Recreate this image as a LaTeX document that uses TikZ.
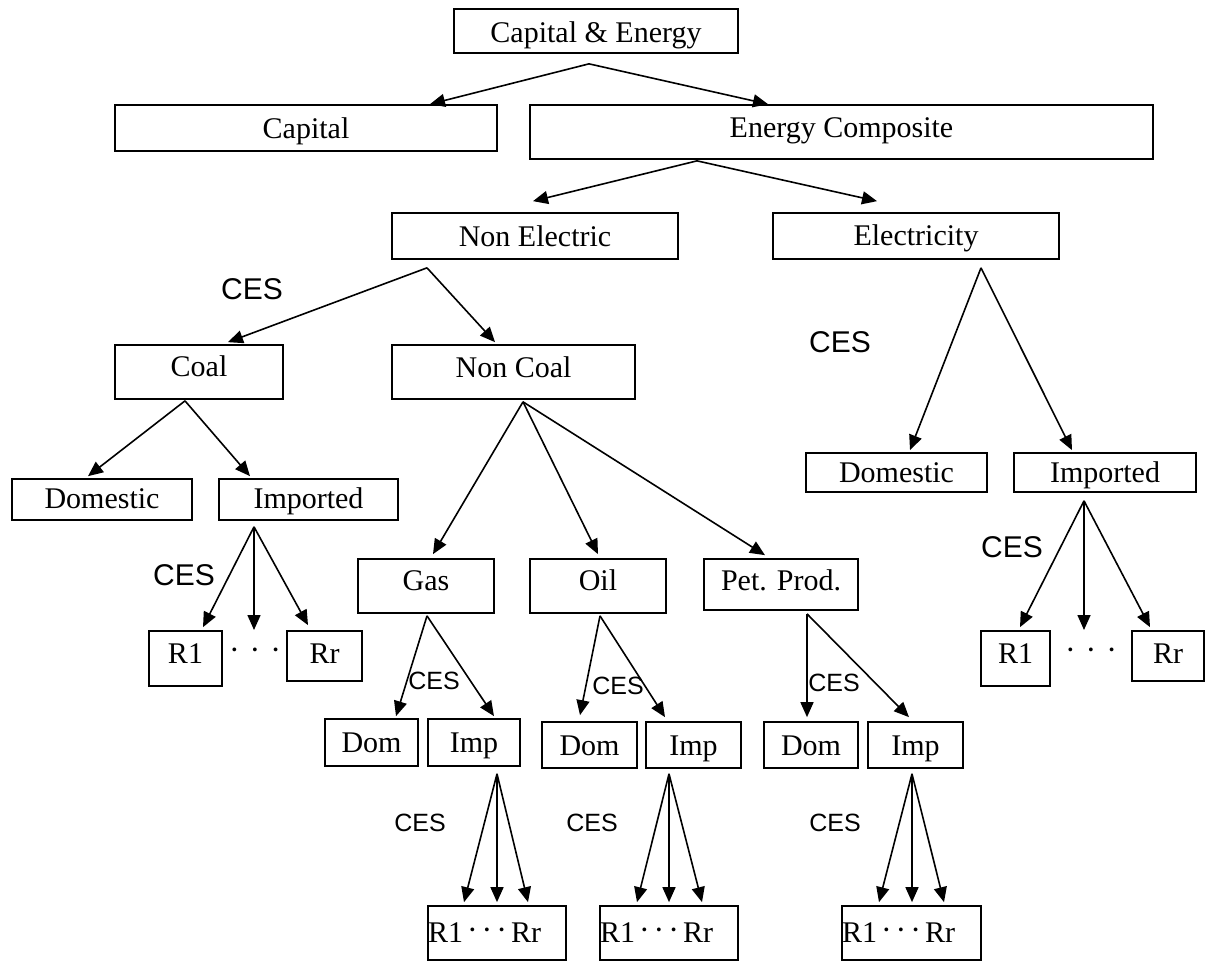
\documentclass[tikz,border=0pt]{standalone}
\usepackage{fontspec}
\setmainfont{Liberation Serif}
\newfontfamily\cesfont{Liberation Sans}
\usetikzlibrary{arrows.meta}
\newcommand\bfnt{\fontsize{30}{34}\selectfont}
\newcommand\mdot{\raisebox{2pt}{\fontsize{32}{34}\selectfont·}}
\newcommand\mybox[7]{%
  \pgfmathsetmacro\bxw{#4-#2}%
  \pgfmathsetmacro\bxd{#5-#3-#6}%
  \node[box, minimum width=\bxw pt, text height=#6pt, text depth=\bxd pt] (#1) at ({(#2+#4)/2},{(#3+#5)/2}) {#7};}
\newcommand\myrbox[6]{%
  \pgfmathsetmacro\bxw{#4-#2}%
  \pgfmathsetmacro\bxd{#5-#3-#6}%
  \node[box, text width=\bxw pt, align=left, text height=#6pt, text depth=\bxd pt] (#1) at ({(#2+#4)/2},{(#3+#5)/2}) {R1\makebox[48pt][s]{\hspace{4pt}\mdot\hfill\mdot\hfill\mdot\hspace{4pt}}Rr};}
\newcommand\myarr[6]{\draw[arr] ([xshift=#2pt,yshift=#3pt]#1.south) -- ([xshift=#5pt,yshift=#6pt]#4.north);}
\begin{document}
\begin{tikzpicture}[x=1pt,y=-1pt,
  box/.style={draw, line width=1.7pt, inner sep=0pt, font=\bfnt},
  arr/.style={line width=1.6pt, -{Triangle[length=15pt,width=13pt]}},
  cesbig/.style={inner sep=0pt, font=\cesfont\fontsize{30}{34}\selectfont},
  cessmall/.style={inner sep=0pt, font=\cesfont\fontsize{25}{29}\selectfont},
  dots/.style={inner sep=0pt, anchor=base, font=\bfnt}]
\fill[white] (0,0) rectangle (1205,961);
\useasboundingbox (0,0) rectangle (1205,961);
% boxes
\mybox{ce}{454}{9}{738}{53}{33}{Capital \& Energy}
\mybox{cap}{115}{105}{497}{151}{33}{Capital}
\mybox{ec}{530}{105}{1153}{159}{32}{Energy Composite}
\mybox{ne}{392}{213}{678}{259}{33}{Non Electric}
\mybox{el}{773}{213}{1059}{259}{32}{Electricity}
\mybox{coal}{115}{345}{283}{399}{31}{Coal}
\mybox{nc}{392}{345}{635}{399}{32}{Non Coal}
\mybox{cdom}{12}{479}{192}{520}{29}{Domestic}
\mybox{cimp}{219}{479}{398}{520}{29}{Imported}
\mybox{cr1}{149}{631}{222}{686}{32}{R1}
\mybox{crr}{287}{631}{362}{681}{32}{Rr}
\mybox{edom}{806}{453}{987}{492}{29}{Domestic}
\mybox{eimp}{1014}{453}{1196}{492}{29}{Imported}
\mybox{er1}{981}{631}{1050}{686}{32}{R1}
\mybox{err}{1132}{631}{1204}{681}{32}{Rr}
\mybox{gas}{358}{559}{494}{613}{31}{Gas}
\mybox{oil}{530}{559}{666}{613}{31}{Oil}
\mybox{pet}{704}{559}{858}{610}{31}{Pet. Prod.}
\mybox{gdom}{325}{719}{418}{766}{33}{Dom}
\mybox{gimp}{428}{719}{520}{766}{33}{Imp}
\mybox{odom}{542}{722}{637}{768}{33}{Dom}
\mybox{oimp}{646}{722}{741}{768}{33}{Imp}
\mybox{pdom}{764}{722}{858}{768}{33}{Dom}
\mybox{pimp}{868}{722}{963}{768}{33}{Imp}
\myrbox{gR}{428}{906}{566}{960}{36}
\myrbox{oR}{600}{906}{738}{960}{36}
\myrbox{pR}{842}{906}{981}{960}{36}
% dots between region boxes
\node[dots] (cdots) at (255,662) {\mdot\hspace{10pt}\mdot\hspace{10pt}\mdot};
\node[dots] (edots) at (1091,662) {\mdot\hspace{10pt}\mdot\hspace{10pt}\mdot};
\coordinate (cmid) at (254,630);
\coordinate (emid) at (1084,630);
% CES labels
\node[cesbig] (ces1) at (252,289) {CES};
\node[cesbig] (ces2) at (840,342) {CES};
\node[cesbig] (ces3) at (184,575) {CES};
\node[cesbig] (ces4) at (1012,547) {CES};
\node[cessmall] (ces5) at (434,681) {CES};
\node[cessmall] (ces6) at (618,686) {CES};
\node[cessmall] (ces7) at (834,683) {CES};
\node[cessmall] (ces8) at (420,823) {CES};
\node[cessmall] (ces9) at (592,823) {CES};
\node[cessmall] (ces10) at (835,823) {CES};
% connectors
\myarr{ce}{-7}{-10}{cap}{124}{0}
\myarr{ce}{-7}{-10}{ec}{-73.5}{0}
\myarr{ec}{-144.5}{-1}{ne}{-2}{11}
\myarr{ec}{-144.5}{-1}{el}{-39}{11}
\myarr{ne}{-108}{-8}{coal}{29}{2}
\myarr{ne}{-108}{-8}{nc}{-18.5}{2}
\myarr{el}{65}{-8}{edom}{13.5}{2}
\myarr{el}{65}{-8}{eimp}{-33}{2}
\myarr{coal}{-14}{-1}{cdom}{-14}{2}
\myarr{coal}{-14}{-1}{cimp}{-58.5}{2}
\myarr{nc}{9.5}{-2}{gas}{7}{4}
\myarr{nc}{9.5}{-2}{oil}{0}{4}
\myarr{nc}{9.5}{-2}{pet}{-16}{3}
\myarr{cimp}{-54.5}{-6}{cr1}{17.5}{3}
\draw[arr] ([xshift=-54.5pt,yshift=-6pt]cimp.south) -- (cmid);
\myarr{cimp}{-54.5}{-6}{crr}{-16.5}{5}
\myarr{eimp}{-21}{-8}{er1}{4.5}{3}
\draw[arr] ([xshift=-21pt,yshift=-8pt]eimp.south) -- (emid);
\myarr{eimp}{-21}{-8}{err}{-18}{3}
\myarr{gas}{1}{-2}{gdom}{24.5}{2}
\myarr{gas}{1}{-2}{gimp}{20}{2}
\myarr{oil}{2}{-2}{odom}{-9.5}{6}
\myarr{oil}{2}{-2}{oimp}{-28.5}{4}
\myarr{pet}{26}{-3}{pdom}{-4}{4}
\myarr{pet}{26}{-3}{pimp}{-6.5}{4}
\myarr{gimp}{23}{-7}{gR}{-33}{3}
\myarr{gimp}{23}{-7}{gR}{0}{3}
\myarr{gimp}{23}{-7}{gR}{31}{3}
\myarr{oimp}{-24.5}{-5}{oR}{-32}{3}
\myarr{oimp}{-24.5}{-5}{oR}{0}{3}
\myarr{oimp}{-24.5}{-5}{oR}{33}{3}
\myarr{pimp}{-3.5}{-5}{pR}{-32.5}{3}
\myarr{pimp}{-3.5}{-5}{pR}{0.5}{3}
\myarr{pimp}{-3.5}{-5}{pR}{32.5}{3}
\end{tikzpicture}
\end{document}
